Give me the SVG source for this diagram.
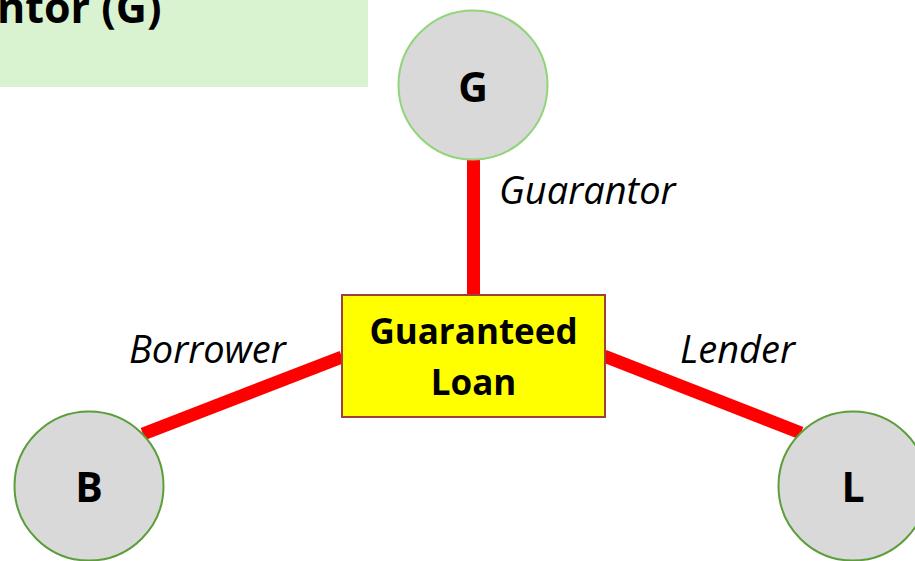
<svg xmlns="http://www.w3.org/2000/svg" width="915" height="561" viewBox="0 0 915 561">
  <style>
    .link { stroke: #ff0000; stroke-width: 13; fill: none; }
    .node { fill: #d9d9d9; stroke-width: 2; }
    .letter { font-family: "Open Sans", "Liberation Sans", sans-serif; font-weight: bold; font-size: 35px; fill: #000; text-anchor: middle; }
    .big { font-size: 41px; }
    .role { font-family: "Open Sans", "Liberation Sans", sans-serif; font-style: italic; font-size: 38px; fill: #000; }
  </style>
  <rect width="915" height="561" fill="#ffffff"/>

  <!-- title panel -->
  <g id="title">
    <rect x="0" y="0" width="368" height="87" fill="#d9f2d0"/>
    <text x="-3" y="23" class="letter" style="text-anchor:start;font-size:43px">ntor (G)</text>
  </g>

  <!-- connectors -->
  <g id="connectors">
    <line class="link" x1="473.5" y1="160" x2="473.5" y2="296"/>
    <line class="link" x1="342" y1="357" x2="143" y2="434"/>
    <line class="link" x1="604" y1="356" x2="801" y2="433"/>
  </g>

  <g id="guaranteed-loan">
    <rect x="342" y="295" width="263" height="122" fill="#ffff00" stroke="#a0403c" stroke-width="2"/>
    <text x="473.5" y="344" class="letter">Guaranteed</text>
    <text x="473.5" y="395" class="letter">Loan</text>
  </g>

  <g id="node-g">
    <circle class="node" cx="473" cy="85" r="74.5" stroke="#92d47a"/>
    <text x="473" y="102" class="letter big">G</text>
  </g>

  <g id="node-b">
    <circle class="node" cx="89" cy="486" r="74.5" stroke="#5b9e3a"/>
    <text x="89" y="502" class="letter big">B</text>
  </g>

  <g id="node-l">
    <circle class="node" cx="853" cy="486" r="74.5" stroke="#5b9e3a"/>
    <text x="853" y="502" class="letter big">L</text>
  </g>

  <!-- role labels -->
  <g id="labels">
    <text x="499" y="204" class="role">Guarantor</text>
    <text x="129" y="363" class="role">Borrower</text>
    <text x="680" y="363" class="role">Lender</text>
  </g>
</svg>
